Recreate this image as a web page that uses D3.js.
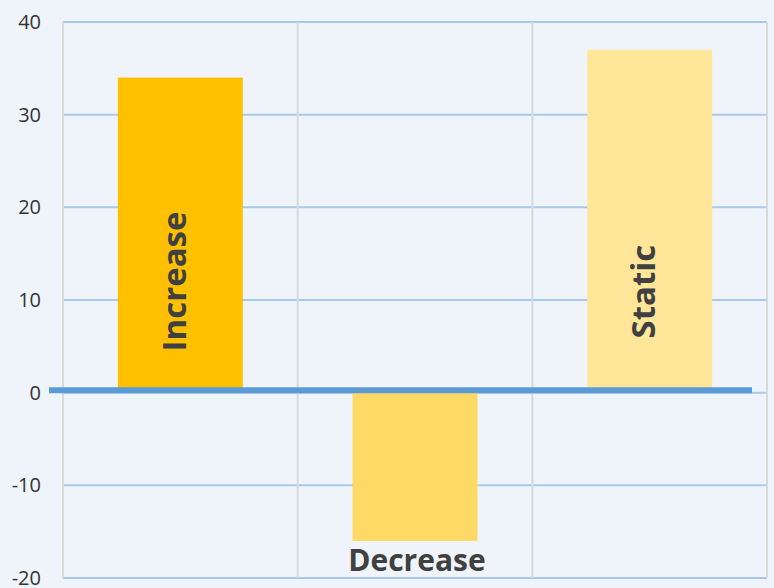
<!DOCTYPE html>
<html>
<head>
<meta charset="utf-8">
<script src="https://d3js.org/d3.v7.min.js"></script>
<style>
  html, body { margin: 0; padding: 0; background: #eff4fb; }
  svg { display: block; }
</style>
</head>
<body>
<script>
  // chart data
  var categories = ["Increase", "Decrease", "Static"];
  var values = [34, -16, 37];
  var barColors = ["#ffc000", "#ffd966", "#ffe699"];
  var yTicks = [-20, -10, 0, 10, 20, 30, 40];
  // where the labels sit (value units)
  var labelAt = [12, -19.2, 10.9];

  var W = 774, H = 588;
  var plotL = 63, plotR = 767, plotT = 22, plotB = 578;

  var svg = d3.select("body").append("svg")
    .attr("width", W)
    .attr("height", H);

  svg.append("rect").attr("width", W).attr("height", H).attr("fill", "#eff4fb");

  var x = d3.scaleBand()
    .domain(categories)
    .range([plotL, plotR])
    .paddingInner(0)
    .paddingOuter(0);

  var y = d3.scaleLinear()
    .domain([-20, 40])
    .range([plotB, plotT]);

  var barW = 125;

  // horizontal grid
  svg.append("g")
    .selectAll("line")
    .data(yTicks)
    .enter()
    .append("line")
    .attr("x1", plotL)
    .attr("x2", plotR)
    .attr("y1", function (d) { return y(d); })
    .attr("y2", function (d) { return y(d); })
    .attr("stroke", "#a9c9ea")
    .attr("stroke-width", 2);

  // vertical category dividers + frame sides
  var dividers = categories.map(function (c) { return x(c); }).concat([plotR]);
  svg.append("g")
    .selectAll("line")
    .data(dividers)
    .enter()
    .append("line")
    .attr("x1", function (d) { return d; })
    .attr("x2", function (d) { return d; })
    .attr("y1", plotT)
    .attr("y2", plotB)
    .attr("stroke", "#d9d9d9")
    .attr("stroke-width", 2);

  // bars
  svg.append("g")
    .selectAll("rect")
    .data(values)
    .enter()
    .append("rect")
    .attr("x", function (d, i) { return x(categories[i]) + x.bandwidth() / 2 - barW / 2; })
    .attr("y", function (d) { return Math.min(y(d), y(0)); })
    .attr("width", barW)
    .attr("height", function (d) { return Math.abs(y(d) - y(0)); })
    .attr("fill", function (d, i) { return barColors[i]; });

  // zero line
  svg.append("line")
    .attr("x1", 49)
    .attr("x2", 752)
    .attr("y1", y(0) - 2.5)
    .attr("y2", y(0) - 2.5)
    .attr("stroke", "#5b9bd5")
    .attr("stroke-width", 6);

  // y axis labels
  svg.append("g")
    .selectAll("text")
    .data(yTicks)
    .enter()
    .append("text")
    .attr("x", 41)
    .attr("y", function (d) { return y(d); })
    .attr("dy", "0.35em")
    .attr("text-anchor", "end")
    .style("font-family", "'Open Sans', sans-serif")
    .style("font-size", "20px")
    .style("fill", "#333333")
    .text(function (d) { return d; });

  // category labels
  categories.forEach(function (c, i) {
    var cx = x(c) + x.bandwidth() / 2;
    var t = svg.append("text")
      .style("font-family", "'Open Sans', sans-serif")
      .style("font-weight", "bold")
      .style("fill", "#404040")
      .attr("text-anchor", "middle")
      .text(c);
    if (values[i] >= 0) {
      t.attr("transform", "translate(" + (cx - 6) + "," + y(labelAt[i]) + ") rotate(-90)")
        .attr("dy", "0.35em")
        .style("font-size", "33px");
    } else {
      t.attr("x", cx + 2)
        .attr("y", y(labelAt[i]))
        .style("font-size", "30px");
    }
  });
</script>
</body>
</html>
